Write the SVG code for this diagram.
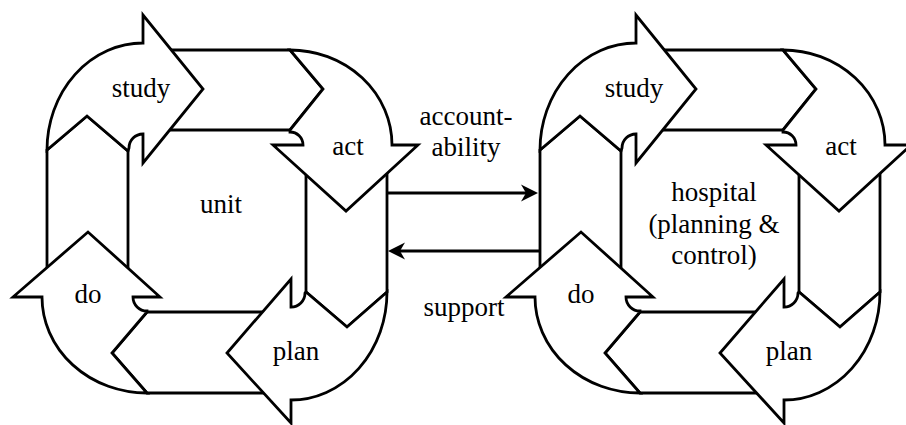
<svg xmlns="http://www.w3.org/2000/svg" width="906" height="425" viewBox="0 0 906 425">
<style>
.sh{fill:#fff;stroke:#000;stroke-width:2.8;stroke-linejoin:miter}
.ln{fill:none;stroke:#000;stroke-width:2.8}
.t{font-family:"Liberation Serif","DejaVu Serif",serif;font-size:27px;text-anchor:middle;fill:#000}
</style>
<defs>
<g id="cycle">
<path class="sh" d="M150,50 L290,50 L323,89 L290,130 L150,130 Z"/>
<path class="sh" d="M306,155 L387,155 L387,292 L347,327 L306,292 Z"/>
<path class="sh" d="M280,312 L147,312 L112,353 L147,393 L280,393 Z"/>
<path class="sh" d="M47,285 L47,150 L87,116 L128,151 L128,285 Z"/>
<path class="sh" d="M47,150 A96,107 0 0 1 143,43 L143,15 L203,89 L143,163 L143,134 A14,14 0 0 0 129,148 L128,151 L87,116 Z"/>
<path class="sh" d="M290,50 A102,95 0 0 1 392,145 L418,145 L346,211 L273,145 L303,145 A13,13 0 0 0 290,132 L290,130 L323,89 Z"/>
<path class="sh" d="M387,292 A96,108 0 0 1 291,400 L291,423 L227,353 L291,279 L291,307 A14,14 0 0 0 305,293 L306,292 L347,327 Z"/>
<path class="sh" d="M147,393 A105,96 0 0 1 42,297 L13,297 L88,232 L160,297 L133,297 A14,14 0 0 0 147,311 L147,312 L112,353 Z"/>
</g>
<marker id="ah" viewBox="0 0 18 18" refX="10" refY="9" markerWidth="18" markerHeight="18" markerUnits="userSpaceOnUse" orient="auto">
<path d="M18,9 L1,0.5 L6,9 L1,17.5 Z" fill="#000"/>
</marker>
</defs>
<g id="unit">
<use href="#cycle"/>
<text class="t" x="141" y="97">study</text>
<text class="t" x="348" y="155">act</text>
<text class="t" x="296" y="360">plan</text>
<text class="t" x="88" y="303">do</text>
<text class="t" x="221" y="213">unit</text>
</g>
<g id="hospital" transform="translate(493,0)">
<use href="#cycle"/>
<text class="t" x="141" y="97">study</text>
<text class="t" x="348" y="155">act</text>
<text class="t" x="296" y="360">plan</text>
<text class="t" x="88" y="303">do</text>
<text class="t" x="221" y="201">hospital</text>
<text class="t" x="221" y="233">(planning &amp;</text>
<text class="t" x="221" y="264">control)</text>
</g>
<g id="connectors">
<line class="ln" x1="388" y1="193" x2="530" y2="193" marker-end="url(#ah)"/>
<line class="ln" x1="540" y1="251" x2="396" y2="251" marker-end="url(#ah)"/>
<text class="t" x="466" y="125">account-</text>
<text class="t" x="466" y="156">ability</text>
<text class="t" x="464" y="316">support</text>
</g>
</svg>
